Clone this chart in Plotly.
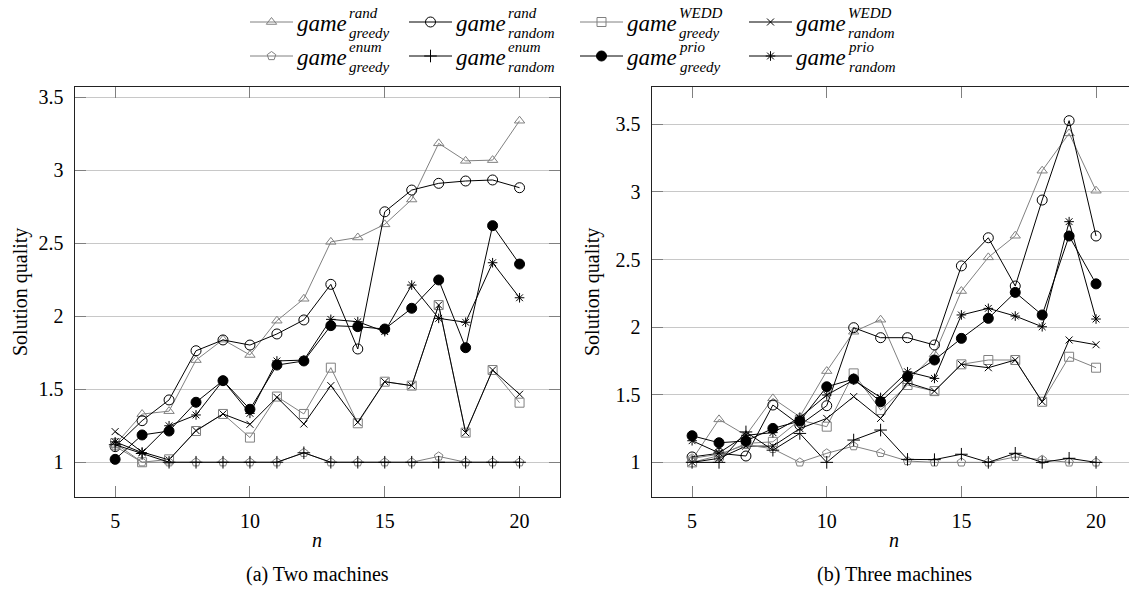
import plotly.graph_objects as go

W, H = 1129, 590

n = list(range(5, 21))

# ---- (a) Two machines ----
a_rand_greedy = [1.12, 1.33, 1.35, 1.70, 1.84, 1.735, 1.97, 2.12, 2.51, 2.54, 2.63, 2.80, 3.185, 3.065, 3.07, 3.34]
a_rand_random = [1.107, 1.285, 1.427, 1.764, 1.838, 1.803, 1.879, 1.975, 2.219, 1.776, 2.716, 2.865, 2.911, 2.927, 2.934, 2.881]
a_wedd_greedy = [1.13, 1.0, 1.02, 1.214, 1.331, 1.169, 1.45, 1.331, 1.648, 1.267, 1.552, 1.525, 2.077, 1.203, 1.632, 1.408]
a_wedd_random = [1.21, 1.07, 1.016, 1.217, 1.331, 1.26, 1.445, 1.262, 1.525, 1.274, 1.552, 1.525, 2.077, 1.203, 1.632, 1.466]
a_enum_greedy = [1.11, 1.0, 1.0, 1.0, 1.0, 1.0, 1.0, 1.065, 1.0, 1.0, 1.0, 1.0, 1.04, 1.0, 1.0, 1.0]
a_enum_random = [1.12, 1.06, 1.0, 1.0, 1.0, 1.0, 1.0, 1.065, 1.0, 1.0, 1.0, 1.0, 1.0, 1.0, 1.0, 1.0]
a_prio_greedy = [1.02, 1.187, 1.214, 1.411, 1.559, 1.363, 1.666, 1.694, 1.936, 1.929, 1.913, 2.055, 2.249, 1.785, 2.621, 2.358]
a_prio_random = [1.14, 1.066, 1.25, 1.324, 1.56, 1.335, 1.694, 1.70, 1.979, 1.963, 1.895, 2.214, 1.986, 1.959, 2.367, 2.127]

# ---- (b) Three machines ----
b_rand_greedy = [1.02, 1.318, 1.20, 1.473, 1.337, 1.675, 1.966, 2.055, 1.60, 1.80, 2.267, 2.516, 2.676, 3.157, 3.433, 3.009]
b_rand_random = [1.04, 1.067, 1.047, 1.424, 1.276, 1.419, 1.996, 1.922, 1.922, 1.868, 2.453, 2.661, 2.304, 2.94, 3.527, 2.674]
b_wedd_greedy = [1.0, 1.05, 1.14, 1.152, 1.313, 1.264, 1.658, 1.387, 1.572, 1.527, 1.725, 1.757, 1.757, 1.448, 1.781, 1.70]
b_wedd_random = [1.0, 1.03, 1.12, 1.12, 1.25, 1.325, 1.486, 1.325, 1.589, 1.527, 1.725, 1.70, 1.757, 1.448, 1.905, 1.87]
b_enum_greedy = [1.03, 1.06, 1.13, 1.10, 1.0, 1.067, 1.12, 1.07, 1.01, 1.0, 1.0, 1.0, 1.04, 1.02, 1.0, 1.0]
b_enum_random = [1.0, 1.0, 1.225, 1.09, 1.214, 1.0, 1.165, 1.239, 1.022, 1.02, 1.06, 1.0, 1.067, 1.0, 1.03, 1.0]
b_prio_greedy = [1.197, 1.145, 1.158, 1.251, 1.305, 1.559, 1.616, 1.448, 1.633, 1.757, 1.917, 2.065, 2.257, 2.09, 2.674, 2.32]
b_prio_random = [1.16, 1.07, 1.20, 1.22, 1.33, 1.498, 1.609, 1.48, 1.67, 1.621, 2.09, 2.139, 2.082, 2.003, 2.78, 2.06]

series_keys = ["rand_greedy", "rand_random", "wedd_greedy", "wedd_random",
               "enum_greedy", "enum_random", "prio_greedy", "prio_random"]
sup_text = ["rand", "rand", "WEDD", "WEDD", "enum", "enum", "prio", "prio"]
sub_text = ["greedy", "random", "greedy", "random", "greedy", "random", "greedy", "random"]

data_a = [a_rand_greedy, a_rand_random, a_wedd_greedy, a_wedd_random,
          a_enum_greedy, a_enum_random, a_prio_greedy, a_prio_random]
data_b = [b_rand_greedy, b_rand_random, b_wedd_greedy, b_wedd_random,
          b_enum_greedy, b_enum_random, b_prio_greedy, b_prio_random]

x_ticks = [5, 10, 15, 20]
y_ticks = [1, 1.5, 2, 2.5, 3, 3.5]
y_tick_text = ["1", "1.5", "2", "2.5", "3", "3.5"]

GREY = "#808080"
BLACK = "#000000"
styles = {
    "rand_greedy": dict(color=GREY, symbol="triangle-up-open", size=9),
    "rand_random": dict(color=BLACK, symbol="circle-open", size=10),
    "wedd_greedy": dict(color=GREY, symbol="square-open", size=9),
    "wedd_random": dict(color=BLACK, symbol="x-thin-open", size=7),
    "enum_greedy": dict(color=GREY, symbol="pentagon-open", size=9),
    "enum_random": dict(color=BLACK, symbol="cross-thin-open", size=9),
    "prio_greedy": dict(color=BLACK, symbol="circle", size=10),
    "prio_random": dict(color=BLACK, symbol="asterisk-open", size=8),
}

FONT = "Liberation Serif"

fig = go.Figure()

for key, ya, yb in zip(series_keys, data_a, data_b):
    st = styles[key]
    for ys, xa, yax in ((ya, "x", "y"), (yb, "x2", "y2")):
        fig.add_trace(go.Scatter(
            x=n, y=ys, xaxis=xa, yaxis=yax, mode="lines+markers",
            line=dict(color=st["color"], width=1),
            marker=dict(symbol=st["symbol"], size=st["size"], color=st["color"],
                        line=dict(color=st["color"], width=1)),
            showlegend=False, hoverinfo="skip", cliponaxis=False))

# ---- manual legend (pixel layout on an invisible overlay axis) ----
leg_col_x = [250, 409, 580, 749]
leg_row_y = [22, 56]
leg_line_len = 43
game_w = 52
for i, key in enumerate(series_keys):
    st = styles[key]
    r, c = i // 4, i % 4
    x0 = leg_col_x[c]
    yy = leg_row_y[r]
    fig.add_trace(go.Scatter(
        x=[x0, x0 + leg_line_len], y=[yy, yy], xaxis="x3", yaxis="y3", mode="lines",
        line=dict(color=st["color"], width=1), showlegend=False, hoverinfo="skip"))
    fig.add_trace(go.Scatter(
        x=[x0 + leg_line_len / 2], y=[yy], xaxis="x3", yaxis="y3", mode="markers",
        marker=dict(symbol=st["symbol"], size=st["size"], color=st["color"],
                    line=dict(color=st["color"], width=1)),
        showlegend=False, hoverinfo="skip"))
    tx = x0 + leg_line_len + 4
    fig.add_annotation(x=tx / W, y=1 - (yy + 1) / H, xref="paper", yref="paper",
                       text="<i>game</i>", showarrow=False, xanchor="left", yanchor="middle",
                       borderpad=0, borderwidth=0,
                       font=dict(family=FONT, size=23, color="black"))
    fig.add_annotation(x=(tx + game_w) / W, y=1 - (yy + 1) / H, xref="paper", yref="paper",
                       text="<i>%s</i><br><i>%s</i>" % (sup_text[i], sub_text[i]),
                       showarrow=False, xanchor="left", yanchor="middle", align="left",
                       borderpad=0, borderwidth=0,
                       font=dict(family=FONT, size=15, color="black"))

# ---- axis labels and captions ----
def txt(x, y, s, size=20, angle=0):
    fig.add_annotation(x=x / W, y=1 - y / H, xref="paper", yref="paper", text=s,
                       showarrow=False, xanchor="center", yanchor="middle", textangle=angle,
                       font=dict(family=FONT, size=size, color="black"))

txt(20, 292, "Solution quality", angle=-90)
txt(592, 292, "Solution quality", angle=-90)
txt(317, 540, "<i>n</i>")
txt(894, 540, "<i>n</i>")
txt(317, 574, "(a) Two machines")
txt(894, 574, "(b) Three machines")

common_x = dict(tickvals=x_ticks, ticks="inside", ticklen=11, tickcolor=GREY, tickwidth=1,
                showline=True, linecolor="#222222", linewidth=1.3, showgrid=False,
                zeroline=False, tickfont=dict(family=FONT, size=20, color="black"),
                ticklabelstandoff=6)
common_y = dict(tickvals=y_ticks, ticktext=y_tick_text, ticks="inside", ticklen=11,
                tickcolor=GREY, tickwidth=1, showline=True, linecolor="#222222",
                linewidth=1.3, showgrid=True, gridcolor="#c8c8c8", gridwidth=1,
                zeroline=False, tickfont=dict(family=FONT, size=20, color="black"),
                ticklabelstandoff=6)

fig.update_layout(
    width=W, height=H, margin=dict(l=0, r=0, t=0, b=0),
    paper_bgcolor="white", plot_bgcolor="rgba(0,0,0,0)", showlegend=False,
    xaxis=dict(domain=[74.7 / W, 560 / W], range=[3.5, 21.5], anchor="y", mirror="ticks", **common_x),
    yaxis=dict(domain=[1 - 496.7 / H, 1 - 87 / H], range=[0.764, 3.571], anchor="x", mirror="ticks", **common_y),
    xaxis2=dict(domain=[651.7 / W, 1.0], range=[3.5, 3.5 + (W - 651.7) / 26.93], anchor="y2", mirror="ticks", **common_x),
    yaxis2=dict(domain=[1 - 496.7 / H, 1 - 87 / H], range=[0.746, 3.776], anchor="x2", mirror=False, **common_y),
    xaxis3=dict(domain=[0, 1], range=[0, W], visible=False, anchor="y3", fixedrange=True),
    yaxis3=dict(domain=[0, 1], range=[H, 0], visible=False, anchor="x3", fixedrange=True),
)

fig.write_html("out.html", config={"displayModeBar": False},
               post_script="document.body.style.margin='0';document.body.style.overflow='hidden';")
